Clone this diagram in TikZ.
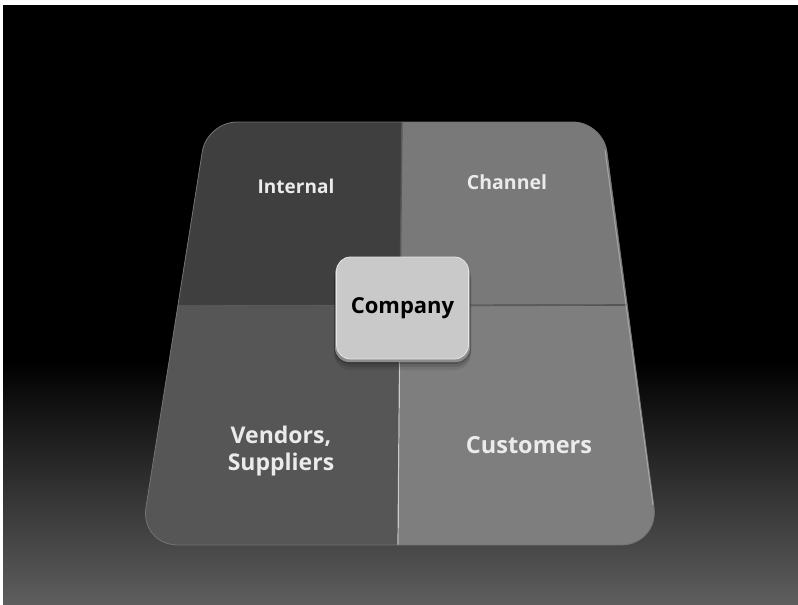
\documentclass[tikz,border=0pt]{standalone}
\usepackage{fontspec}
\setmainfont{Open Sans}
\usetikzlibrary{positioning}

\definecolor{tileA}{HTML}{3F3F3F}
\definecolor{tileB}{HTML}{797979}
\definecolor{tileC}{HTML}{565656}
\definecolor{tileD}{HTML}{7E7E7E}
\definecolor{hubfill}{HTML}{C9C9C9}

\begin{document}
\begin{tikzpicture}[x=1pt, y=-1pt,
		caption/.style={text=white!92!black, align=center, font=\bfseries\fontsize{#1}{27}\selectfont},
		caption/.default=20,
		hub/.style={rectangle, rounded corners=14pt, fill=hubfill, draw=white!90!black, line width=0.8pt,
			minimum width=132pt, minimum height=102pt, font=\bfseries\fontsize{22}{24}\selectfont}
	]
	\useasboundingbox (0,0) rectangle (798,605);
	% backdrop
	\fill[white] (0,0) rectangle (798,605);
	\fill[black] (3,5) rectangle (798,362);
	\shade[top color=black, bottom color=black!63] (3,360) rectangle (798,605);

	% corners of the tray
	\coordinate (tl) at (207,122);
	\coordinate (tr) at (603,122);
	\coordinate (br) at (659,545);
	\coordinate (bl) at (140,545);
	\coordinate (tm) at (402,122);
	\coordinate (bm) at (398,545);
	\coordinate (ml) at (178,306);
	\coordinate (mr) at (627,305);
	\coordinate (c) at (400,305.5);
	\tikzset{tray/.style={insert path={[rounded corners=30pt] (tl) -- (tr) [rounded corners=38pt] -- (br) -- (bl) [rounded corners=30pt] -- cycle}}}

	% soft shadow under the tray
	\foreach \d/\o in {24/0.10, 18/0.14, 13/0.18, 8/0.24, 4/0.3} {
		\fill[black, opacity=\o, yshift=-\d, tray];
	}
	% edge thickness
	\fill[black!55, yshift=-3, tray];

	\begin{scope}
	\clip[tray];
	\fill[tileA] (100,100) -- (402,100) -- (tm) -- (c) -- (ml) -- (100,306) -- cycle;
	\fill[tileB] (402,100) -- (700,100) -- (700,305) -- (mr) -- (c) -- (tm) -- cycle;
	\fill[tileC] (100,306) -- (ml) -- (c) -- (bm) -- (398,600) -- (100,600) -- cycle;
	\fill[tileD] (c) -- (mr) -- (700,305) -- (700,600) -- (398,600) -- (bm) -- cycle;
	% grooves between the tiles
	\draw[black!70, line width=1.6pt] (ml) -- (mr);
	\draw[white!40!black, line width=0.8pt, yshift=-1.5] (ml) -- (mr);
	\draw[black!65, line width=1.4pt] (tm) -- (c);
	\draw[black!75, line width=1.2pt, xshift=1.5] (c) -- (bm);
	\draw[white!80!black, line width=1.2pt] (c) -- (bm);
	\end{scope}
	% rim light
	\draw[white!45!black, line width=0.8pt, tray];
	\draw[white!65!black, line width=1pt] (605,150) -- (653,505);

	% labels on the tiles
	\node[caption=19] (internal) at (296,186) {Internal};
	\node[caption=19.5] (channel) at (507,182) {Channel};
	\node[caption=23, text width=150pt] (vendors) at (281,451) {Vendors,\\Suppliers};
	\node[caption=23.5] (customers) at (529,445) {Customers};

	% centre block
	\foreach \d/\o in {10/0.08, 7/0.12, 4/0.18} {
		\fill[black, opacity=\o, rounded corners=16pt] (334,257+\d) rectangle (471,360+\d);
	}
	\fill[black!45, rounded corners=14pt] (335,260) rectangle (470,362);
	\node[hub] (company) at (402.5,308) {Company};
\end{tikzpicture}
\end{document}
